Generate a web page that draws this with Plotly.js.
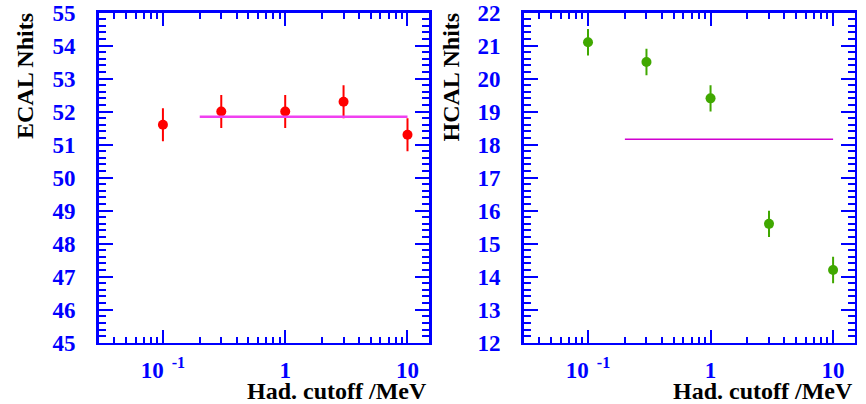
<!DOCTYPE html>
<html><head><meta charset="utf-8">
<script src="https://cdn.plot.ly/plotly-3.0.1.min.js"></script>
<style>html,body{margin:0;padding:0;background:#fff}</style>
</head><body><div id="c" style="width:866px;height:404px"></div>
<script>
const cutoff = [0.1, 0.3, 1, 3, 10];
const ecal = [51.6, 52.0, 52.0, 52.3, 51.3];
const ecalErr = [0.5, 0.5, 0.5, 0.5, 0.5];
const hcal = [21.1, 20.5, 19.4, 15.6, 14.2];
const hcalErr = [0.4, 0.4, 0.4, 0.4, 0.4];
const fitX = [0.2, 10];
const ecalFit = [51.84, 51.84];
const hcalFit = [18.16, 18.16];
const xTickVals = [0.1, 1, 10];
const xTickText = ['10<sup>  -1</sup>', '1', '10'];

const blue = '#0000ff';
const tfont = {family: 'Liberation Serif', size: 23, color: blue, weight: 'bold'};
function xax(dom){
  return {type:'log', domain:dom, range:[-1.525,1.176], showline:true, linecolor:blue, linewidth:2.5,
    mirror:'ticks', ticks:'inside', ticklen:13, tickwidth:2, tickcolor:blue,
    tickmode:'array', tickvals:xTickVals, ticktext:xTickText, tickfont:tfont, ticklabelstandoff:5,
    showgrid:false, zeroline:false,
    minor:{ticks:'inside', ticklen:6, tickwidth:2, tickcolor:blue, dtick:'D1', showgrid:false}};
}
function yax(dom, r){
  return {domain:dom, range:r, showline:true, linecolor:blue, linewidth:2.5,
    mirror:'ticks', ticks:'inside', ticklen:14, tickwidth:2, tickcolor:blue,
    dtick:1, tickfont:tfont, ticklabelstandoff:16, showgrid:false, zeroline:false,
    minor:{ticks:'inside', ticklen:7, tickwidth:2, tickcolor:blue, dtick:0.2, showgrid:false}};
}
const yd = [0.1517, 0.969];
const traces = [
  {x:cutoff, y:ecal, xaxis:'x', yaxis:'y', mode:'markers', type:'scatter',
   marker:{color:'#ff0000', size:10},
   error_y:{type:'data', array:ecalErr, color:'#ff0000', thickness:2, width:0}},
  {x:fitX, y:ecalFit, xaxis:'x', yaxis:'y', mode:'lines', type:'scatter',
   line:{color:'#f040f0', width:2.5}},
  {x:cutoff, y:hcal, xaxis:'x2', yaxis:'y2', mode:'markers', type:'scatter',
   marker:{color:'#40a800', size:10},
   error_y:{type:'data', array:hcalErr, color:'#40a800', thickness:2, width:0}},
  {x:fitX, y:hcalFit, xaxis:'x2', yaxis:'y2', mode:'lines', type:'scatter',
   line:{color:'#d000d0', width:1.5}}
];
const afont = {family:'Liberation Serif', size:24, color:'#000', weight:'bold'};
const layout = {
  width:866, height:404, margin:{l:0,r:0,t:0,b:0}, showlegend:false,
  paper_bgcolor:'#fff', plot_bgcolor:'#fff',
  xaxis: xax([0.114, 0.4954]), yaxis: Object.assign(yax(yd,[45,55]), {anchor:'x'}),
  xaxis2: Object.assign(xax([0.6047, 0.9869]), {anchor:'y2'}), yaxis2: Object.assign(yax(yd,[12,22]), {anchor:'x2'}),
  annotations:[
    {text:'ECAL Nhits', xref:'paper', yref:'paper', x:25/866, y:1-11/404, xanchor:'center', yanchor:'top', textangle:-90, showarrow:false, font:afont},
    {text:'HCAL Nhits', xref:'paper', yref:'paper', x:450/866, y:1-11/404, xanchor:'center', yanchor:'top', textangle:-90, showarrow:false, font:afont},
    {text:'Had. cutoff /MeV', xref:'paper', yref:'paper', x:429/866, y:1-391/404, xanchor:'right', yanchor:'middle', showarrow:false, font:afont},
    {text:'Had. cutoff /MeV', xref:'paper', yref:'paper', x:855/866, y:1-391/404, xanchor:'right', yanchor:'middle', showarrow:false, font:afont}
  ]
};
Plotly.newPlot('c', traces, layout, {staticPlot:true});
</script></body></html>
